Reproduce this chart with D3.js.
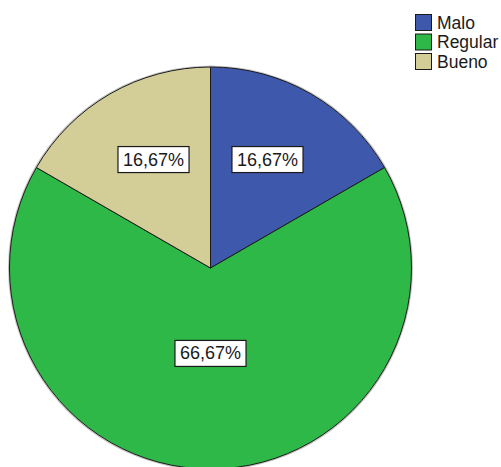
<!DOCTYPE html>
<html>
<head>
<meta charset="utf-8">
<script src="https://cdn.jsdelivr.net/npm/d3@7"></script>
<style>
  html, body { margin: 0; padding: 0; background: #fff; }
  svg { display: block; }
  text { font-family: "Liberation Sans", Arial, sans-serif; }
</style>
</head>
<body>
<svg id="chart" width="501" height="467"></svg>
<script>
// Category names and their shares (percent)
const categories = ["Malo", "Regular", "Bueno"];
const percents = [16.67, 66.67, 16.67];
const colors = ["#3E58AC", "#2EB848", "#D3CE97"];

const svg = d3.select("#chart");
const cx = 210.5, cy = 268, radius = 201;

const data = categories.map((c, i) => ({ name: c, value: percents[i], color: colors[i] }));

const pie = d3.pie().sort(null).value(d => d.value).startAngle(0).endAngle(2 * Math.PI);
const arcs = pie(data);
const arc = d3.arc().innerRadius(0).outerRadius(radius);

const g = svg.append("g").attr("transform", `translate(${cx},${cy})`);

// soft halo around the pie rim
g.append("circle")
  .attr("r", radius + 0.8)
  .attr("fill", "none")
  .attr("stroke", "#999")
  .attr("stroke-width", 1.5)
  .attr("opacity", 0.6);

g.selectAll("path.slice")
  .data(arcs)
  .enter().append("path")
  .attr("class", "slice")
  .attr("d", arc)
  .attr("fill", d => d.data.color)
  .attr("stroke", "#1a1a1a")
  .attr("stroke-width", 1);

// value labels: small slices sit further out than the large one
const fmt = v => v.toFixed(2).replace(".", ",") + "%";
const isLarge = d => (d.endAngle - d.startAngle) > Math.PI;

const labels = g.selectAll("g.lbl")
  .data(arcs)
  .enter().append("g")
  .attr("class", "lbl")
  .attr("transform", d => {
    const mid = (d.startAngle + d.endAngle) / 2;
    const fx = isLarge(d) ? 0.425 : 0.567;
    const fy = isLarge(d) ? 0.425 : 0.623;
    return `translate(${Math.sin(mid) * radius * fx},${-Math.cos(mid) * radius * fy})`;
  });

labels.append("text")
  .attr("text-anchor", "middle")
  .attr("dominant-baseline", "central")
  .attr("font-size", 18)
  .attr("fill", "#1a1a1a")
  .text(d => fmt(d.data.value))
  .each(function () {
    const b = this.getBBox();
    d3.select(this.parentNode).insert("rect", "text")
      .attr("x", b.x - 5)
      .attr("y", -13)
      .attr("width", b.width + 10)
      .attr("height", 26)
      .attr("fill", "#fff")
      .attr("stroke", "#1a1a1a")
      .attr("stroke-width", 1.2);
  });

// legend
const legend = svg.append("g").attr("transform", "translate(415,14)");
const rowH = 19.5;
const items = legend.selectAll("g")
  .data(data)
  .enter().append("g")
  .attr("transform", (d, i) => `translate(0,${i * rowH})`);

items.append("rect")
  .attr("x", 0.5).attr("y", 0.5)
  .attr("width", 16).attr("height", 16)
  .attr("fill", d => d.color)
  .attr("stroke", "#1a1a1a")
  .attr("stroke-width", 1);

items.append("text")
  .attr("x", 22)
  .attr("y", 8.5)
  .attr("dominant-baseline", "central")
  .attr("font-size", 17.5)
  .attr("fill", "#1a1a1a")
  .text(d => d.name);
</script>
</body>
</html>
